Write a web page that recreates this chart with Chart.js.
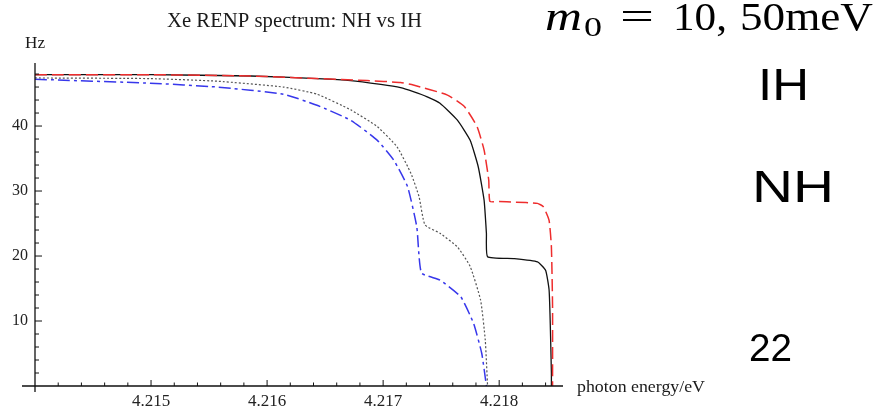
<!DOCTYPE html>
<html>
<head>
<meta charset="utf-8">
<script src="https://cdn.jsdelivr.net/npm/chart.js@4.4.1/dist/chart.umd.min.js"></script>
<style>
  html, body { margin: 0; padding: 0; background: #fff; }
  #wrap { width: 886px; height: 407px; }
</style>
</head>
<body>
<div id="wrap"><canvas id="chart" width="886" height="407"></canvas></div>
<script>
// tick positions (eV and Hz)
const xMajorTicks = [4.215, 4.216, 4.217, 4.218];
const xMinorTicks = [4.2142, 4.2144, 4.2146, 4.2148, 4.2152, 4.2154, 4.2156, 4.2158,
  4.2162, 4.2164, 4.2166, 4.2168, 4.2172, 4.2174, 4.2176, 4.2178, 4.2182, 4.2184];
const yMajorTicks = [10, 20, 30, 40];
const yMinorTicks = [2, 4, 6, 8, 12, 14, 16, 18, 22, 24, 26, 28, 32, 34, 36, 38, 42, 44, 46, 48];

// red dashed curve
const redX = [4.21400, 4.21500, 4.21586, 4.21643, 4.21686, 4.21715, 4.21726, 4.21755, 4.21770,
  4.21781, 4.21787, 4.21791, 4.21792, 4.21800, 4.21813, 4.21833, 4.21838, 4.21843, 4.21845, 4.21846, 4.21846];
const redY = [47.9, 47.9, 47.7, 47.3, 47.0, 46.7, 46.3, 44.8, 43.0,
  39.9, 36.3, 31.7, 28.4, 28.4, 28.3, 28.1, 27.6, 25.5, 21.4, 12.2, 0];

// black solid curve
const blackX = [4.21400, 4.21500, 4.21586, 4.21643, 4.21672, 4.21698, 4.21715, 4.21726, 4.21738, 4.21749,
  4.21764, 4.21775, 4.21782, 4.21787, 4.21789, 4.21790, 4.21813, 4.21833, 4.21840, 4.21843, 4.21844, 4.21845, 4.21845];
const blackY = [47.9, 47.9, 47.7, 47.3, 47.0, 46.4, 45.9, 45.3, 44.5, 43.5,
  40.9, 37.8, 33.7, 28.6, 23.5, 19.9, 19.6, 19.1, 17.8, 14.8, 9.7, 2.0, 0];

// grey dotted curve
const greyX = [4.21400, 4.21499, 4.21557, 4.21614, 4.21643, 4.21672, 4.21695, 4.21712, 4.21724,
  4.21731, 4.21736, 4.21749, 4.21764, 4.21775, 4.21784, 4.21788, 4.21790];
const greyY = [47.4, 47.3, 46.9, 46.0, 44.9, 42.5, 39.9, 36.8, 32.7,
  29.1, 24.8, 23.5, 21.4, 18.4, 13.2, 7.1, 0];

// blue dash-dot curve
const blueX = [4.21400, 4.21499, 4.21557, 4.21614, 4.21643, 4.21672, 4.21695, 4.21709, 4.21721,
  4.21729, 4.21733, 4.21749, 4.21767, 4.21778, 4.21785, 4.21789];
const blueY = [47.2, 46.6, 46.0, 44.9, 43.2, 40.9, 37.8, 34.8, 30.7,
  24.5, 17.4, 16.3, 13.7, 9.6, 5.0, 0];

function pts(xs, ys) {
  return xs.map((x, i) => ({ x: x, y: ys[i] }));
}

// draws text squeezed/stretched to a given width
function fitText(ctx, text, x, y, font, width) {
  ctx.save();
  ctx.font = font;
  const w = ctx.measureText(text).width;
  ctx.translate(x, y);
  ctx.scale(width / w, 1);
  ctx.fillText(text, 0, 0);
  ctx.restore();
}

const axesPlugin = {
  id: 'axesPlugin',
  afterDatasetsDraw(chart) {
    const ctx = chart.ctx;
    const xs = chart.scales.x;
    const ys = chart.scales.y;
    const x0 = xs.getPixelForValue(4.214);
    const y0 = ys.getPixelForValue(0);
    ctx.save();
    ctx.strokeStyle = '#111';
    ctx.lineWidth = 1.3;
    ctx.beginPath();
    ctx.moveTo(22, y0);
    ctx.lineTo(xs.right, y0);
    ctx.moveTo(x0, ys.top);
    ctx.lineTo(x0, y0 + 6);
    ctx.stroke();

    ctx.lineWidth = 1;
    ctx.beginPath();
    xMajorTicks.forEach(v => {
      const p = xs.getPixelForValue(v);
      ctx.moveTo(p, y0); ctx.lineTo(p, y0 - 6);
    });
    xMinorTicks.forEach(v => {
      const p = xs.getPixelForValue(v);
      ctx.moveTo(p, y0); ctx.lineTo(p, y0 - 3.5);
    });
    yMajorTicks.forEach(v => {
      const p = ys.getPixelForValue(v);
      ctx.moveTo(x0, p); ctx.lineTo(x0 + 7, p);
    });
    yMinorTicks.forEach(v => {
      const p = ys.getPixelForValue(v);
      ctx.moveTo(x0, p); ctx.lineTo(x0 + 4, p);
    });
    ctx.stroke();
    ctx.restore();
  },
  afterDraw(chart) {
    const ctx = chart.ctx;
    ctx.save();
    ctx.fillStyle = '#1a1a1a';
    ctx.textBaseline = 'alphabetic';
    ctx.textAlign = 'left';
    fitText(ctx, 'Xe RENP spectrum: NH vs IH', 167, 27, '20px "Liberation Serif"', 255);
    fitText(ctx, 'Hz', 25, 48, '16px "Liberation Serif"', 20);
    fitText(ctx, 'photon energy/eV', 577, 392, '17px "Liberation Serif"', 128);

    // m_0 = 10, 50meV
    ctx.fillStyle = '#000';
    fitText(ctx, 'm', 545, 30, 'italic 40px "Liberation Serif"', 37);
    fitText(ctx, '0', 584, 36, '28px "Liberation Serif"', 18);
    fitText(ctx, '=', 620, 30, '40px "Liberation Serif"', 34);
    fitText(ctx, '10,', 673, 30, '40px "Liberation Serif"', 54);
    fitText(ctx, '50meV', 740, 30, '40px "Liberation Serif"', 133);

    fitText(ctx, 'IH', 758, 100, '44px "Liberation Sans"', 51);
    fitText(ctx, 'NH', 752, 202, '44px "Liberation Sans"', 82);
    fitText(ctx, '22', 749, 361, '38px "Liberation Sans"', 43);
    ctx.restore();
  }
};

new Chart(document.getElementById('chart'), {
  type: 'line',
  data: {
    datasets: [
      {
        label: 'red dashed',
        data: pts(redX, redY),
        borderColor: 'rgb(238, 45, 45)',
        borderWidth: 1.5,
        borderDash: [12, 5]
      },
      {
        label: 'black solid',
        data: pts(blackX, blackY),
        borderColor: '#111',
        borderWidth: 1.3
      },
      {
        label: 'grey dotted',
        data: pts(greyX, greyY),
        borderColor: '#555',
        borderWidth: 1.2,
        borderDash: [2, 2]
      },
      {
        label: 'blue dash-dot',
        data: pts(blueX, blueY),
        borderColor: 'rgb(55, 55, 235)',
        borderWidth: 1.5,
        borderDash: [12, 4, 3, 4]
      }
    ]
  },
  options: {
    responsive: false,
    animation: false,
    devicePixelRatio: 1,
    layout: { padding: { top: 63, right: 323, left: 0, bottom: 0 } },
    elements: {
      point: { radius: 0 },
      line: { tension: 0.15, fill: false }
    },
    plugins: {
      legend: { display: false },
      tooltip: { enabled: false },
      title: { display: false }
    },
    scales: {
      x: {
        type: 'linear',
        min: 4.214,
        max: 4.21855,
        grid: { display: false, drawTicks: false },
        border: { display: false },
        afterFit: s => { s.height = 21; },
        afterBuildTicks: s => { s.ticks = xMajorTicks.map(v => ({ value: v })); },
        ticks: {
          padding: 5,
          color: '#222',
          font: { family: 'Liberation Serif', size: 17 },
          maxRotation: 0,
          autoSkip: false,
          callback: v => v.toFixed(3)
        }
      },
      y: {
        min: 0,
        max: 49.7,
        grid: { display: false, drawTicks: false },
        border: { display: false },
        afterFit: s => { s.width = 35; },
        afterBuildTicks: s => { s.ticks = yMajorTicks.map(v => ({ value: v })); },
        ticks: {
          padding: 7,
          color: '#222',
          font: { family: 'Liberation Serif', size: 16 },
          autoSkip: false
        }
      }
    }
  },
  plugins: [axesPlugin]
});
</script>
</body>
</html>
